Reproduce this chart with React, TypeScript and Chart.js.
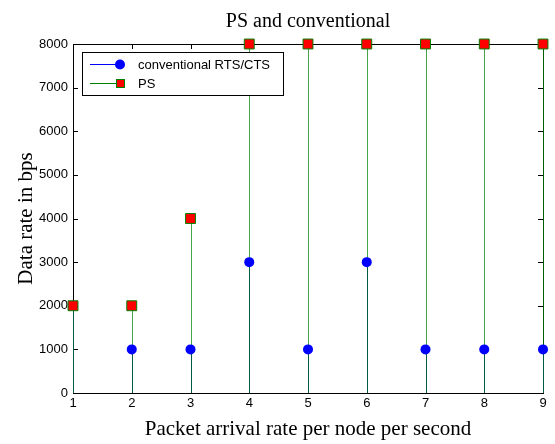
import React, { useEffect, useRef } from "react";
import { Chart, registerables } from "chart.js";
Chart.register(...registerables);

const xValues = [1, 2, 3, 4, 5, 6, 7, 8, 9];
const conventional = [2000, 1000, 1000, 3000, 1000, 3000, 1000, 1000, 1000];
const ps = [2000, 2000, 4000, 8000, 8000, 8000, 8000, 8000, 8000];
const titleText = "PS and conventional";
const xTitle = "Packet arrival rate per node per second";
const yTitle = "Data rate in bps";
const legendLabels = ["conventional RTS/CTS", "PS"];

const BLUE = "#0000ff";
const GREEN = "#008000";
const RED = "#ff0000";
const SERIF = "'Liberation Serif', 'Times New Roman', serif";
const SANS = "'Liberation Sans', Arial, sans-serif";

const stemPlugin = {
  id: "stems",
  beforeDatasetsDraw(chart: any) {
    const { ctx, chartArea, scales } = chart;
    const { left, right, top, bottom } = chartArea;
    ctx.save();
    // frame
    ctx.strokeStyle = "#000";
    ctx.lineWidth = 1;
    ctx.strokeRect(Math.round(left) + 0.5, Math.round(top) + 0.5, Math.round(right - left), Math.round(bottom - top));
    // inward ticks
    const tl = 5;
    scales.x.ticks.forEach((t: any) => {
      const px = Math.round(scales.x.getPixelForValue(t.value)) + 0.5;
      ctx.beginPath();
      ctx.moveTo(px, bottom);
      ctx.lineTo(px, bottom - tl);
      ctx.moveTo(px, top);
      ctx.lineTo(px, top + tl);
      ctx.stroke();
    });
    scales.y.ticks.forEach((t: any) => {
      const py = Math.round(scales.y.getPixelForValue(t.value)) + 0.5;
      ctx.beginPath();
      ctx.moveTo(left, py);
      ctx.lineTo(left + tl, py);
      ctx.moveTo(right, py);
      ctx.lineTo(right - tl, py);
      ctx.stroke();
    });
    // stems
    const y0 = scales.y.getPixelForValue(0);
    const colors = [BLUE, "rgba(0,128,0,0.72)"];
    [0, 1].forEach((i) => {
      const meta = chart.getDatasetMeta(i);
      ctx.strokeStyle = colors[i];
      ctx.lineWidth = 1;
      meta.data.forEach((el: any) => {
        const x = Math.round(el.x) + 0.5;
        ctx.beginPath();
        ctx.moveTo(x, y0);
        ctx.lineTo(x, el.y);
        ctx.stroke();
      });
    });
    ctx.restore();
  },
  afterDatasetsDraw(chart: any) {
    const { ctx, chartArea } = chart;
    const lx = chartArea.left + 9;
    const ly = chartArea.top + 8;
    const w = 201;
    const h = 43;
    ctx.save();
    ctx.fillStyle = "#fff";
    ctx.fillRect(lx, ly, w, h);
    ctx.strokeStyle = "#000";
    ctx.lineWidth = 1;
    ctx.strokeRect(Math.round(lx) + 0.5, Math.round(ly) + 0.5, w, h);
    const rows = [ly + 12, ly + 31];
    // row 1
    ctx.strokeStyle = BLUE;
    ctx.beginPath();
    ctx.moveTo(lx + 8, rows[0] + 0.5);
    ctx.lineTo(lx + 38, rows[0] + 0.5);
    ctx.stroke();
    ctx.fillStyle = BLUE;
    ctx.beginPath();
    ctx.arc(lx + 38, rows[0] + 0.5, 5, 0, Math.PI * 2);
    ctx.fill();
    // row 2
    ctx.strokeStyle = GREEN;
    ctx.beginPath();
    ctx.moveTo(lx + 8, rows[1] + 0.5);
    ctx.lineTo(lx + 38, rows[1] + 0.5);
    ctx.stroke();
    ctx.fillStyle = RED;
    ctx.fillRect(lx + 34, rows[1] - 4, 9, 9);
    ctx.strokeStyle = GREEN;
    ctx.strokeRect(lx + 34.5, rows[1] - 3.5, 8, 8);
    ctx.fillStyle = "#000";
    ctx.font = `13px ${SANS}`;
    ctx.textBaseline = "middle";
    ctx.textAlign = "left";
    ctx.fillText(legendLabels[0], lx + 56, rows[0] + 1);
    ctx.fillText(legendLabels[1], lx + 56, rows[1] + 1);
    ctx.restore();
  },
  afterDraw(chart: any) {
    const { ctx, chartArea } = chart;
    ctx.save();
    ctx.fillStyle = "#000";
    ctx.font = `20px ${SERIF}`;
    ctx.textAlign = "center";
    ctx.textBaseline = "alphabetic";
    ctx.fillText(titleText, (chartArea.left + chartArea.right) / 2, 27);
    ctx.restore();
  },
};

export default function App() {
  const ref = useRef<HTMLCanvasElement>(null);
  useEffect(() => {
    if (!ref.current) return;
    const chart = new Chart(ref.current, {
      type: "scatter",
      data: {
        datasets: [
          {
            label: legendLabels[0],
            data: xValues.map((x, i) => ({ x, y: conventional[i] })),
            pointStyle: "circle",
            pointRadius: 5,
            pointBackgroundColor: BLUE,
            pointBorderColor: BLUE,
            pointBorderWidth: 0,
            showLine: false,
            clip: false,
            order: 1,
          },
          {
            label: legendLabels[1],
            data: xValues.map((x, i) => ({ x, y: ps[i] })),
            pointStyle: "rect",
            pointRadius: 7,
            pointBackgroundColor: RED,
            pointBorderColor: GREEN,
            pointBorderWidth: 1,
            showLine: false,
            clip: false,
            order: 0,
          },
        ],
      },
      options: {
        animation: false,
        responsive: false,
        devicePixelRatio: 1,
        layout: { padding: { left: 0, right: 12, top: 44, bottom: 0 } },
        plugins: {
          legend: { display: false },
          tooltip: { enabled: false },
          title: { display: false },
        },
        scales: {
          x: {
            type: "linear",
            min: 1,
            max: 9,
            grid: { display: false, drawTicks: false },
            border: { display: false },
            ticks: {
              stepSize: 1,
              padding: 3,
              color: "#000",
              font: { family: SANS, size: 13 },
              callback: (v: any) => String(v),
            },
            title: {
              display: true,
              text: xTitle,
              color: "#000",
              font: { family: SERIF, size: 21 },
              padding: { top: 0, bottom: 2 },
            },
            afterFit: (s: any) => {
              s.height = 51;
            },
          },
          y: {
            type: "linear",
            min: 0,
            max: 8000,
            grid: { display: false, drawTicks: false },
            border: { display: false },
            ticks: {
              stepSize: 1000,
              padding: 5,
              color: "#000",
              font: { family: SANS, size: 13 },
              callback: (v: any) => String(v),
            },
            title: {
              display: true,
              text: yTitle,
              color: "#000",
              font: { family: SERIF, size: 21 },
              padding: { top: 14, bottom: 0 },
            },
            afterFit: (s: any) => {
              s.width = 73;
            },
          },
        },
      },
      plugins: [stemPlugin],
    });
    return () => chart.destroy();
  }, []);
  return (
    <div style={{ position: "absolute", left: 0, top: 0, width: 555, height: 444, background: "#fff" }}>
      <canvas ref={ref} width={555} height={444} style={{ display: "block" }} />
    </div>
  );
}
